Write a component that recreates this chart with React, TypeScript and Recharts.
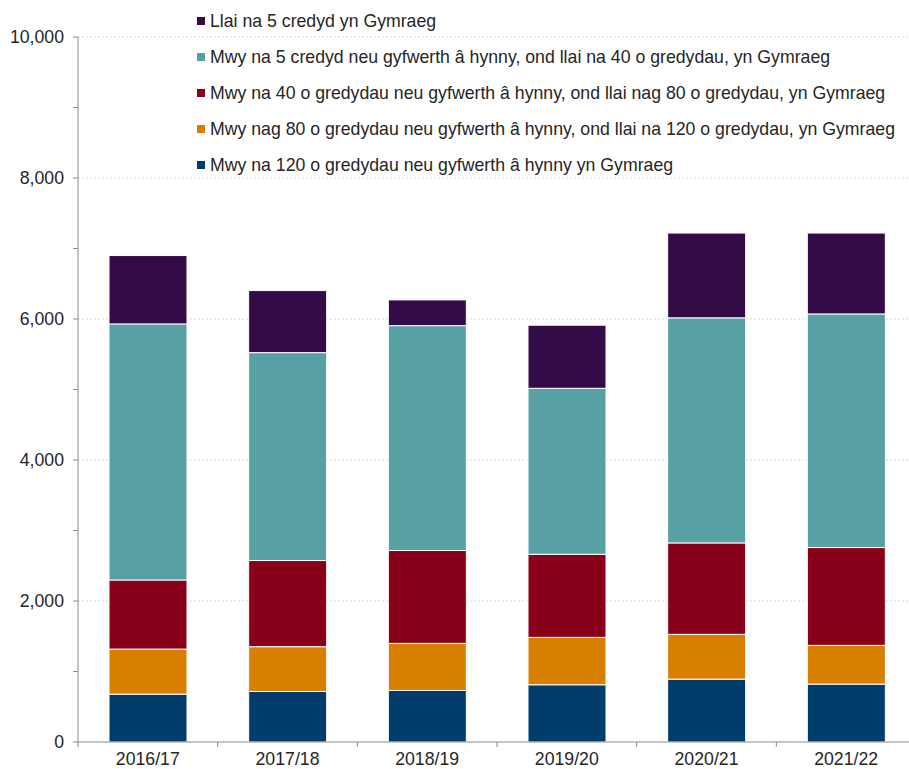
import { BarChart, Bar, XAxis, YAxis, CartesianGrid, Legend } from 'recharts';

const years = ['2016/17', '2017/18', '2018/19', '2019/20', '2020/21', '2021/22'];

// stacked from the bottom up
const credits120Plus = [679, 717, 731, 812, 892, 821];
const credits80To120 = [639, 635, 668, 672, 635, 550];
const credits40To80 = [980, 1222, 1317, 1179, 1297, 1387];
const credits5To40 = [3632, 2949, 3190, 2354, 3192, 3314];
const creditsUnder5 = [970, 880, 365, 895, 1203, 1147];

const seriesNames = [
  'Mwy na 120 o gredydau neu gyfwerth â hynny yn Gymraeg',
  'Mwy nag 80 o gredydau neu gyfwerth â hynny, ond llai na 120 o gredydau, yn Gymraeg',
  'Mwy na 40 o gredydau neu gyfwerth â hynny, ond llai nag 80 o gredydau, yn Gymraeg',
  'Mwy na 5 credyd neu gyfwerth â hynny, ond llai na 40 o gredydau, yn Gymraeg',
  'Llai na 5 credyd yn Gymraeg',
];
const seriesColors = ['#003d6b', '#d97f00', '#880019', '#57a0a4', '#330c47'];

const yTicks = [0, 1000, 2000, 3000, 4000, 5000, 6000, 7000, 8000, 9000, 10000];
const gridValues = [2000, 4000, 6000, 8000, 10000];

const FONT = '"Liberation Sans", Arial, sans-serif';
const FONT_SIZE = 17.7;
const TEXT = '#262626';
const AXIS = '#8c8c8c';

const data = years.map((year, i) => ({
  year,
  s0: credits120Plus[i],
  s1: credits80To120[i],
  s2: credits40To80[i],
  s3: credits5To40[i],
  s4: creditsUnder5[i],
}));

// category label plus a tick mark on the band boundary
function YearTick(props: any) {
  const { x, y, payload, index, visibleTicksCount, width } = props;
  let half = payload?.offset;
  if (!half || half < 5) half = width / visibleTicksCount / 2;
  const axisY = y - 14;
  return (
    <g>
      <line x1={x - half} x2={x - half} y1={axisY} y2={axisY + 5} stroke={AXIS} />
      {index === visibleTicksCount - 1 && (
        <line x1={x + half} x2={x + half} y1={axisY} y2={axisY + 5} stroke={AXIS} />
      )}
      <text x={x} y={y} dy={9} textAnchor="middle" fill={TEXT} fontSize={FONT_SIZE} fontFamily={FONT}>
        {payload.value}
      </text>
    </g>
  );
}

// top of the stack first, as in the original
function LegendList({ payload }: any) {
  const items = [...(payload ?? [])].sort(
    (a: any, b: any) => seriesNames.indexOf(b.value) - seriesNames.indexOf(a.value)
  );
  return (
    <div style={{ fontFamily: FONT, fontSize: FONT_SIZE, color: TEXT }}>
      {items.map((item: any) => (
        <div key={item.value} style={{ height: 36, display: 'flex', alignItems: 'center', whiteSpace: 'nowrap' }}>
          <span style={{ width: 8, height: 8, background: item.color, marginRight: 5, display: 'inline-block' }} />
          {item.value}
        </div>
      ))}
    </div>
  );
}

export default function App() {
  return (
    <div style={{ position: 'absolute', left: 0, top: 0, width: 909, height: 769, overflow: 'hidden', background: '#fff' }}>
      <BarChart
        width={930}
        height={769}
        data={data}
        margin={{ top: 37, right: 14, left: 0, bottom: 0 }}
        barSize={78}
      >
        <CartesianGrid
          vertical={false}
          horizontalValues={gridValues}
          stroke="#d9d9d9"
          strokeDasharray="2 2"
        />
        <XAxis
          dataKey="year"
          height={27}
          stroke={AXIS}
          tickLine={false}
          tickSize={6}
          tickMargin={8}
          tick={<YearTick />}
          interval={0}
        />
        <YAxis
          width={78}
          domain={[0, 10000]}
          ticks={yTicks}
          interval={0}
          stroke={AXIS}
          tickSize={5}
          tickMargin={9}
          tick={{ fill: TEXT, fontSize: FONT_SIZE, fontFamily: FONT }}
          tickFormatter={(v: number) => (v % 2000 === 0 ? v.toLocaleString('en-US') : '')}
        />
        <Legend
          layout="vertical"
          align="center"
          verticalAlign="middle"
          itemSorter={null as any}
          wrapperStyle={{ left: 197, top: 3, width: 720 }}
          content={<LegendList />}
        />
        {seriesNames.map((name, i) => (
          <Bar
            key={name}
            dataKey={`s${i}`}
            name={name}
            stackId="total"
            fill={seriesColors[i]}
            stroke="#ffffff"
            strokeWidth={1}
            isAnimationActive={false}
          />
        ))}
      </BarChart>
    </div>
  );
}
